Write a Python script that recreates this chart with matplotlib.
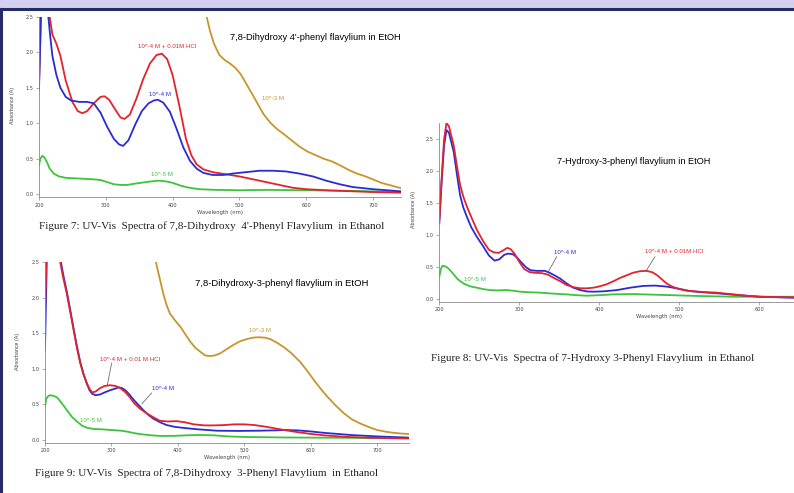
"""UV-Vis spectra of three flavylium salts in ethanol, laid out as on the slide."""
import matplotlib
matplotlib.use('Agg')
import matplotlib.pyplot as plt
from matplotlib.patches import Rectangle
from matplotlib.lines import Line2D

W, H = 794, 493

# ---- Figure 7: 7,8-Dihydroxy 4'-phenyl flavylium ----
f7_red = [(200, 1.55), (202, 2.2), (204, 3.0), (210, 3.3), (214, 2.8), (216, 2.5), (220, 2.25), (226, 2.12),
          (232, 1.95), (240, 1.6), (250, 1.3), (258, 1.17), (265, 1.14), (272, 1.17), (282, 1.28), (292, 1.37),
          (298, 1.38), (305, 1.33), (315, 1.18), (322, 1.08), (328, 1.06), (336, 1.12), (346, 1.35), (356, 1.62),
          (366, 1.84), (376, 1.96), (384, 1.98), (392, 1.9), (400, 1.68), (410, 1.25), (420, 0.78), (428, 0.55),
          (436, 0.42), (446, 0.35), (460, 0.31), (480, 0.28), (500, 0.25), (520, 0.21), (540, 0.17), (560, 0.13),
          (580, 0.09), (600, 0.07), (640, 0.05), (700, 0.03), (742, 0.02)]
f7_blue = [(200, 1.47), (202, 2.2), (204, 3.0), (210, 3.0), (213, 2.6), (216, 2.3), (220, 1.95), (226, 1.68),
           (232, 1.5), (240, 1.37), (248, 1.32), (260, 1.30), (272, 1.30), (282, 1.28), (292, 1.15), (302, 0.95),
           (312, 0.78), (320, 0.70), (326, 0.68), (334, 0.76), (344, 0.98), (354, 1.17), (364, 1.28), (372, 1.32),
           (378, 1.33), (386, 1.29), (396, 1.16), (406, 0.92), (416, 0.66), (426, 0.47), (436, 0.36), (446, 0.30),
           (460, 0.27), (476, 0.27), (490, 0.29), (510, 0.31), (530, 0.33), (550, 0.33), (570, 0.32), (590, 0.29),
           (610, 0.25), (630, 0.19), (650, 0.14), (670, 0.10), (700, 0.07), (742, 0.04)]
f7_green = [(200, 0.41), (202, 0.5), (205, 0.54), (208, 0.52), (212, 0.45), (216, 0.36), (222, 0.29), (230, 0.25),
            (240, 0.23), (260, 0.22), (280, 0.21), (292, 0.20), (302, 0.17), (312, 0.14), (322, 0.13), (332, 0.13),
            (345, 0.15), (360, 0.17), (378, 0.19), (390, 0.18), (400, 0.16), (412, 0.12), (425, 0.09), (440, 0.07),
            (465, 0.06), (500, 0.055), (540, 0.06), (600, 0.055), (650, 0.05), (700, 0.04), (742, 0.03)]
f7_orange = [(200, 1.6), (201, 2.4), (203, 3.0), (300, 3.5), (440, 2.9), (451, 2.5), (456, 2.3), (462, 2.12),
             (470, 1.96), (478, 1.89), (486, 1.84), (494, 1.78), (502, 1.69), (510, 1.56), (518, 1.43), (527, 1.28),
             (536, 1.13), (546, 1.01), (556, 0.92), (566, 0.85), (578, 0.76), (590, 0.67), (602, 0.60), (614, 0.55),
             (626, 0.50), (639, 0.46), (652, 0.40), (664, 0.34), (676, 0.29), (689, 0.25), (702, 0.20), (714, 0.155),
             (728, 0.12), (742, 0.084)]

# ---- Figure 9: 7,8-Dihydroxy-3-phenyl flavylium ----
f9_red = [(200, 1.8), (202, 2.5), (204, 3.2), (215, 3.4), (222, 2.55), (227, 2.3), (233, 2.05), (238, 1.8),
          (243, 1.55), (248, 1.3), (253, 1.08), (258, 0.92), (263, 0.80), (267, 0.72), (271, 0.67), (276, 0.68),
          (283, 0.73), (290, 0.76), (298, 0.77), (306, 0.76), (313, 0.73), (320, 0.68), (327, 0.61), (334, 0.52),
          (343, 0.44), (353, 0.375), (363, 0.32), (373, 0.27), (385, 0.26), (398, 0.265), (410, 0.25), (424, 0.22),
          (440, 0.205), (455, 0.205), (470, 0.21), (485, 0.22), (500, 0.22), (515, 0.21), (530, 0.19), (545, 0.165),
          (560, 0.14), (580, 0.11), (600, 0.085), (620, 0.065), (650, 0.045), (690, 0.03), (748, 0.022)]
f9_blue = [(200, 1.27), (202, 2.2), (204, 3.2), (215, 3.4), (223, 2.55), (228, 2.3), (233, 2.08), (238, 1.83),
           (243, 1.57), (248, 1.32), (253, 1.1), (258, 0.93), (263, 0.79), (267, 0.70), (271, 0.65), (276, 0.63),
           (283, 0.64), (290, 0.67), (298, 0.70), (305, 0.72), (311, 0.74), (316, 0.73), (321, 0.70), (327, 0.64),
           (334, 0.56), (341, 0.49), (348, 0.42), (356, 0.35), (363, 0.30), (373, 0.25), (383, 0.21), (395, 0.185),
           (408, 0.17), (430, 0.15), (459, 0.13), (490, 0.127), (520, 0.13), (545, 0.135), (560, 0.14), (580, 0.135),
           (600, 0.12), (620, 0.10), (640, 0.085), (660, 0.07), (700, 0.05), (748, 0.033)]
f9_green = [(200, 0.47), (202, 0.58), (205, 0.62), (208, 0.63), (213, 0.62), (218, 0.60), (225, 0.52), (233, 0.42),
            (240, 0.33), (248, 0.26), (256, 0.2), (264, 0.17), (273, 0.155), (285, 0.15), (300, 0.14), (315, 0.13),
            (325, 0.115), (335, 0.095), (345, 0.08), (360, 0.065), (375, 0.056), (395, 0.058), (415, 0.066),
            (435, 0.07), (455, 0.065), (475, 0.05), (500, 0.042), (560, 0.035), (650, 0.03), (748, 0.023)]
f9_orange = [(200, 1.8), (201, 2.5), (203, 3.2), (300, 3.6), (360, 2.7), (367, 2.5), (372, 2.3), (378, 2.06),
             (383, 1.9), (388, 1.78), (396, 1.68), (404, 1.59), (411, 1.49), (419, 1.38), (426, 1.3), (434, 1.24),
             (441, 1.19), (448, 1.18), (456, 1.19), (464, 1.22), (474, 1.28), (484, 1.34), (494, 1.39), (504, 1.42),
             (513, 1.44), (522, 1.445), (531, 1.44), (539, 1.42), (549, 1.37), (559, 1.31), (571, 1.22), (584, 1.10),
             (595, 0.97), (605, 0.84), (615, 0.72), (625, 0.61), (637, 0.49), (650, 0.375), (662, 0.29), (675, 0.23),
             (688, 0.18), (700, 0.14), (712, 0.118), (725, 0.10), (737, 0.09), (748, 0.084)]

# ---- Figure 8: 7-Hydroxy-3-phenyl flavylium ----
f8_red = [(200, 1.23), (203, 1.9), (206, 2.5), (209, 2.75), (212, 2.7), (215, 2.55), (218, 2.4), (222, 2.08),
          (226, 1.78), (230, 1.6), (234, 1.46), (240, 1.28), (247, 1.08), (255, 0.90), (262, 0.77), (268, 0.73),
          (274, 0.72), (280, 0.76), (285, 0.80), (289, 0.78), (294, 0.71), (300, 0.58), (306, 0.47), (313, 0.42),
          (320, 0.41), (328, 0.405), (336, 0.38), (343, 0.33), (351, 0.28), (359, 0.22), (368, 0.185), (376, 0.168),
          (385, 0.168), (393, 0.178), (401, 0.2), (409, 0.23), (418, 0.28), (426, 0.33), (434, 0.37), (442, 0.41),
          (451, 0.435), (459, 0.44), (466, 0.42), (472, 0.375), (478, 0.31), (484, 0.245), (491, 0.195),
          (497, 0.167), (505, 0.14), (513, 0.125), (530, 0.11), (547, 0.10), (558, 0.085), (568, 0.073),
          (585, 0.05), (601, 0.036), (620, 0.03), (650, 0.025), (700, 0.02), (750, 0.02)]
f8_blue = [(200, 1.18), (203, 1.85), (206, 2.4), (209, 2.64), (212, 2.6), (215, 2.45), (218, 2.3), (222, 1.95),
           (226, 1.62), (230, 1.43), (234, 1.3), (240, 1.12), (247, 0.97), (255, 0.82), (262, 0.68), (269, 0.60),
           (275, 0.62), (281, 0.69), (286, 0.71), (292, 0.70), (297, 0.65), (302, 0.58), (308, 0.50), (314, 0.45),
           (322, 0.44), (332, 0.44), (338, 0.41), (344, 0.37), (351, 0.32), (359, 0.245), (367, 0.18), (376, 0.14),
           (385, 0.118), (393, 0.115), (405, 0.12), (422, 0.14), (440, 0.18), (455, 0.205), (470, 0.21),
           (484, 0.195), (497, 0.167), (513, 0.125), (530, 0.105), (547, 0.09), (570, 0.065), (601, 0.036),
           (643, 0.02), (700, 0.015), (750, 0.015)]
f8_green = [(200, 0.35), (202, 0.47), (204, 0.52), (208, 0.51), (212, 0.47), (217, 0.40), (223, 0.31), (230, 0.245),
            (238, 0.2), (247, 0.177), (255, 0.155), (263, 0.14), (273, 0.135), (284, 0.14), (292, 0.13), (301, 0.115),
            (314, 0.105), (326, 0.1), (342, 0.085), (359, 0.073), (372, 0.06), (384, 0.052), (400, 0.06),
            (417, 0.073), (442, 0.078), (463, 0.07), (484, 0.0625), (526, 0.047), (568, 0.036), (643, 0.036),
            (700, 0.035), (750, 0.035)]

RED, BLUE, GREEN, ORANGE = '#e3232b', '#2b2bd6', '#3cc43c', '#c8952c'
TICKC = '#8a8a8a'

fig = plt.figure(figsize=(W / 100, H / 100), dpi=100)
fig.patch.set_facecolor('white')


def fx(px):
    return px / W


def fy(py):
    return 1 - py / H


# slide decoration: lavender header strip, navy rule and left border
fig.patches.append(Rectangle((0, fy(7.5)), 1, 7.5 / H, transform=fig.transFigure,
                             facecolor='#d2cff0', edgecolor='none', zorder=0))
fig.lines.append(Line2D([0, 1], [fy(9), fy(9)], transform=fig.transFigure, color='#262a66', lw=2.2))
fig.lines.append(Line2D([fx(1), fx(1)], [fy(9), 0], transform=fig.transFigure, color='#262a66', lw=2.2))


def make_axes(left, right, top, bottom, xlim, ylim, xticks, yticks):
    ax = fig.add_axes([fx(left), fy(bottom), fx(right - left), (bottom - top) / H])
    ax.set_xlim(*xlim)
    ax.set_ylim(*ylim)
    ax.set_facecolor('none')
    for s in ('top', 'right'):
        ax.spines[s].set_visible(False)
    for s in ('left', 'bottom'):
        ax.spines[s].set_color(TICKC)
        ax.spines[s].set_linewidth(0.6)
    ax.set_xticks(xticks)
    ax.set_yticks(yticks)
    ax.set_yticklabels([f'{v:.1f}' for v in yticks])
    ax.tick_params(colors=TICKC, labelcolor='#444444', labelsize=3.6, length=2.5, width=0.5, pad=1.5)
    ax.set_xlabel('Wavelength (nm)', fontsize=3.8, color='#444444', labelpad=1.5)
    return ax


def draw(ax, series, color):
    xs = [p[0] for p in series]
    ys = [p[1] for p in series]
    ax.plot(xs, ys, color=color, lw=1.3, solid_joinstyle='round')


yt = [0.0, 0.5, 1.0, 1.5, 2.0, 2.5]
xt = [200, 300, 400, 500, 600, 700]

# Figure 7 panel
ax7 = make_axes(39, 401, 16.7, 197, (200, 742), (-0.04, 2.5), xt, yt)
for s, c in ((f7_orange, ORANGE), (f7_green, GREEN), (f7_red, RED), (f7_blue, BLUE)):
    draw(ax7, s, c)

# Figure 9 panel
ax9 = make_axes(45, 409, 262.3, 442.8, (200, 748), (-0.04, 2.5), xt, yt)
for s, c in ((f9_orange, ORANGE), (f9_green, GREEN), (f9_blue, BLUE), (f9_red, RED)):
    draw(ax9, s, c)

# Figure 8 panel (runs past the right edge of the slide)
ax8 = make_axes(439.3, 879.3, 123, 301.6, (200, 750), (-0.04, 2.75), xt[:-1], yt)
for s, c in ((f8_green, GREEN), (f8_blue, BLUE), (f8_red, RED)):
    draw(ax8, s, c)

SANS = 'Liberation Sans'
SERIF = 'Liberation Serif'


def label(px, py, txt, color, size=4.4, ha='center', family=SANS, rot=0):
    fig.text(fx(px), fy(py), txt, color=color, fontsize=size, ha=ha, va='center',
             family=family, rotation=rot)


def pointer(x0, y0, x1, y1):
    fig.lines.append(Line2D([fx(x0), fx(x1)], [fy(y0), fy(y1)], transform=fig.transFigure,
                            color='#555555', lw=0.5))


# y-axis labels
label(13, 105, 'Absorbance (A)', '#444444', size=3.8, rot=90)
label(18, 351, 'Absorbance (A)', '#444444', size=3.8, rot=90)
label(413, 210, 'Absorbance (A)', '#444444', size=3.8, rot=90)

# panel titles
label(230, 38, "7,8-Dihydroxy 4'-phenyl flavylium in EtOH", 'black', size=6.7, ha='left')
label(195, 283, '7,8-Dihydroxy-3-phenyl flavylium in EtOH', 'black', size=6.8, ha='left')
label(557, 161, '7-Hydroxy-3-phenyl flavylium in EtOH', 'black', size=6.6, ha='left')

# curve annotations, Figure 7
label(167, 47, '10^-4 M + 0.01M HCl', RED)
label(160, 95, '10^-4 M', BLUE)
label(162, 174, '10^-5 M', GREEN)
label(273, 98, '10^-3 M', ORANGE)

# curve annotations, Figure 9
label(260, 331, '10^-3 M', ORANGE)
label(130, 359.5, '10^-4 M + 0.01 M HCl', RED)
pointer(111.7, 363, 107.3, 385)
label(163, 389, '10^-4 M', BLUE)
pointer(151.7, 393, 141.7, 404)
label(91, 420, '10^-5 M', GREEN)

# curve annotations, Figure 8
label(565, 252.7, '10^-4 M', BLUE)
pointer(556.7, 256.7, 548.3, 271.7)
label(674.3, 251.7, '10^-4 M + 0.01M HCl', RED)
pointer(655, 256.7, 646, 271)
label(475, 279.3, '10^-5 M', GREEN)

# figure captions
label(39, 226, "Figure 7: UV-Vis  Spectra of 7,8-Dihydroxy  4'-Phenyl Flavylium  in Ethanol", '#222222',
      size=8.05, ha='left', family=SERIF)
label(431, 358, 'Figure 8: UV-Vis  Spectra of 7-Hydroxy 3-Phenyl Flavylium  in Ethanol', '#222222',
      size=8.05, ha='left', family=SERIF)
label(35, 472.7, 'Figure 9: UV-Vis  Spectra of 7,8-Dihydroxy  3-Phenyl Flavylium  in Ethanol', '#222222',
      size=8.05, ha='left', family=SERIF)

fig.savefig('out.png', dpi=100)
